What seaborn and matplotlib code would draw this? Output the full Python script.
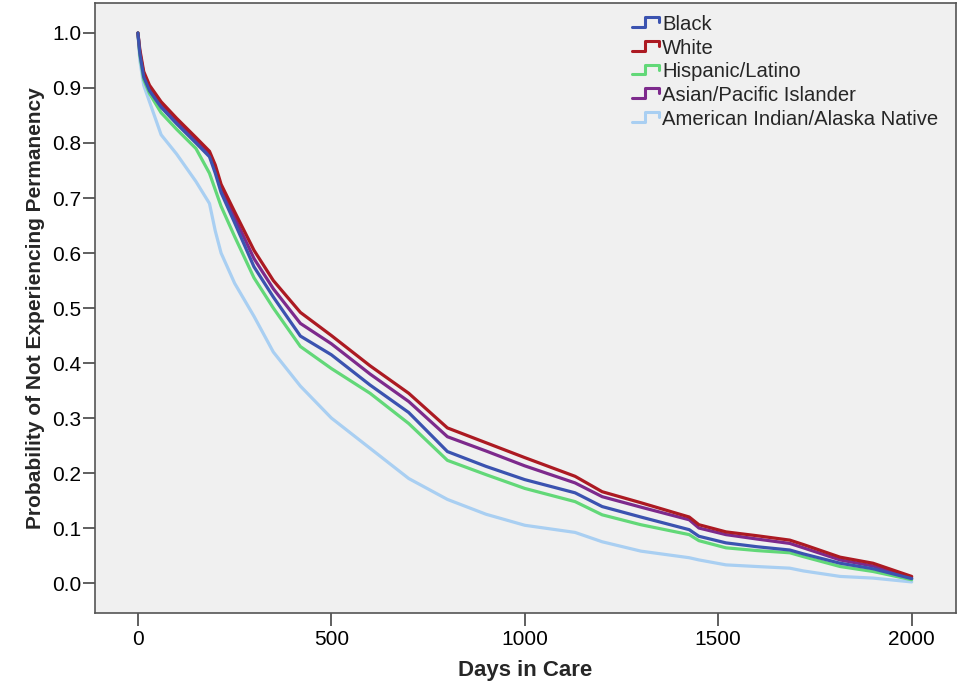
import matplotlib
matplotlib.use('Agg')
import matplotlib.pyplot as plt
import pandas as pd
import seaborn as sns
from matplotlib.lines import Line2D
from matplotlib.legend_handler import HandlerBase

# Kaplan-Meier curves (days in care vs. survival)
days = [0, 5, 15, 30, 60, 100, 150, 185, 200, 215, 250, 300, 350, 420, 500, 600,
        700, 800, 900, 1000, 1130, 1200, 1300, 1425, 1450, 1520, 1600, 1685, 1720,
        1815, 1900, 2000]

black = [1.0, 0.963, 0.92, 0.895, 0.865, 0.835, 0.8, 0.775, 0.745, 0.71, 0.655, 0.575,
         0.52, 0.449, 0.415, 0.36, 0.31, 0.239, 0.212, 0.188, 0.164, 0.139, 0.12, 0.097,
         0.085, 0.073, 0.066, 0.06, 0.053, 0.036, 0.026, 0.008]
white = [1.0, 0.97, 0.93, 0.905, 0.875, 0.845, 0.81, 0.785, 0.76, 0.725, 0.675, 0.605,
         0.55, 0.492, 0.45, 0.395, 0.345, 0.282, 0.255, 0.228, 0.194, 0.166, 0.146, 0.12,
         0.106, 0.093, 0.086, 0.078, 0.07, 0.047, 0.036, 0.012]
hispanic = [1.0, 0.96, 0.915, 0.89, 0.855, 0.825, 0.79, 0.745, 0.715, 0.685, 0.63, 0.555,
            0.5, 0.43, 0.39, 0.345, 0.29, 0.223, 0.197, 0.172, 0.148, 0.124, 0.106, 0.088,
            0.077, 0.064, 0.059, 0.055, 0.048, 0.03, 0.021, 0.006]
asian = [1.0, 0.965, 0.925, 0.9, 0.87, 0.84, 0.805, 0.78, 0.755, 0.718, 0.665, 0.59,
         0.535, 0.472, 0.435, 0.38, 0.33, 0.266, 0.24, 0.213, 0.182, 0.157, 0.138, 0.115,
         0.1, 0.088, 0.08, 0.072, 0.064, 0.042, 0.031, 0.009]
native = [1.0, 0.95, 0.905, 0.875, 0.815, 0.78, 0.73, 0.69, 0.64, 0.6, 0.545, 0.485,
          0.42, 0.358, 0.3, 0.245, 0.19, 0.152, 0.125, 0.105, 0.092, 0.075, 0.058, 0.046,
          0.042, 0.033, 0.03, 0.027, 0.022, 0.012, 0.009, 0.002]

groups = ['Black', 'White', 'Hispanic/Latino', 'Asian/Pacific Islander',
          'American Indian/Alaska Native']
colors = ['#3b53b0', '#ac1a22', '#62d878', '#7d2a8c', '#a9cff2']

rows = []
for g, vals in zip(groups, [black, white, hispanic, asian, native]):
    for d, v in zip(days, vals):
        rows.append({'Days in Care': d, 'prob': v, 'group': g})
df = pd.DataFrame(rows)

sns.set_style('white')
plt.rcParams['font.family'] = ['Liberation Sans', 'DejaVu Sans']

fig = plt.figure(figsize=(9.64, 6.85), dpi=100)
ax = fig.add_axes([0.0985, 0.1051, 0.893, 0.8905])
ax.set_facecolor('#f0f0f0')

# draw the lightest curve first so the others sit on top
for g in groups[::-1]:
    sub = df[df['group'] == g]
    sns.lineplot(data=sub, x='Days in Care', y='prob', ax=ax,
                 color=colors[groups.index(g)], linewidth=2.3, legend=False)

ax.set_xlim(-111, 2114)
ax.set_ylim(-0.0545, 1.0545)
ax.set_xticks([0, 500, 1000, 1500, 2000])
ax.set_yticks([i / 10 for i in range(11)])
ax.set_yticklabels(['%.1f' % (i / 10) for i in range(11)])

ax.tick_params(axis='both', bottom=True, left=True, direction='out', length=9,
               width=1.2, color='#444444', labelsize=15, labelcolor='black')
ax.tick_params(axis='x', pad=3)
ax.tick_params(axis='y', pad=1)

for s in ax.spines.values():
    s.set_color('#555555')
    s.set_linewidth(1.2)

ax.set_xlabel('Days in Care', fontsize=16, fontweight='bold', labelpad=8)
ax.set_ylabel('Probability of Not Experiencing Permanency', fontsize=15,
              fontweight='bold', labelpad=5)


class HandlerStep(HandlerBase):
    def create_artists(self, legend, orig_handle, xdescent, ydescent, width, height,
                       fontsize, trans):
        x0, w = -xdescent, width
        y0, h = -ydescent, height
        xs = [x0, x0 + w * 0.45, x0 + w * 0.45, x0 + w * 0.95, x0 + w * 0.95]
        ys = [y0 + h * 0.2, y0 + h * 0.2, y0 + h * 0.9, y0 + h * 0.9, y0 + h * 0.55]
        ln = Line2D(xs, ys, color=orig_handle.get_color(), linewidth=2.2)
        ln.set_transform(trans)
        return [ln]


handles = [Line2D([], [], color=c) for c in colors]
ax.legend(handles, groups, loc='upper left', bbox_to_anchor=(0.612, 0.997),
          frameon=False, fontsize=14.6, handlelength=1.4, handletextpad=0.08,
          labelspacing=0.23, borderpad=0,
          handler_map={Line2D: HandlerStep()})

fig.savefig('out.png', dpi=100)
